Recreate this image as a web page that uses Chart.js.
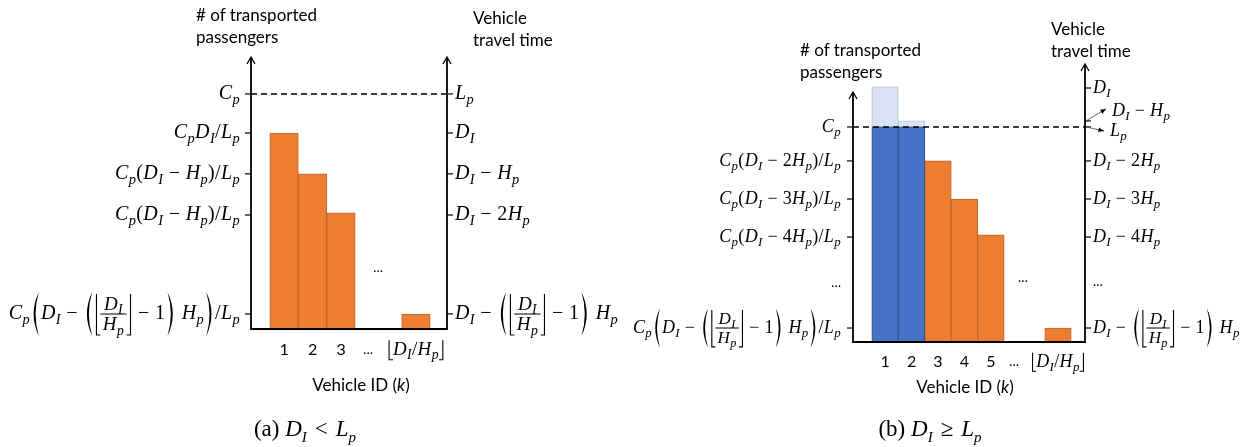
<!DOCTYPE html>
<html>
<head>
<meta charset="utf-8">
<script src="https://cdn.jsdelivr.net/npm/chart.js@4.4.1/dist/chart.umd.min.js"></script>
<style>
  body { margin: 0; background: #fff; width: 1250px; height: 447px; overflow: hidden; position: relative; }
  canvas { position: absolute; top: 0; }
  #chartA { left: 0; }
  #chartB { left: 600px; }
  .t { position: absolute; font-family: Lato, "Open Sans", sans-serif; font-size: 17px; line-height: 22px; color: #000; white-space: nowrap; }
  .c { transform: translateX(-50%); }
  .cap { position: absolute; font-family: "Liberation Serif", serif; font-size: 23px; color: #000; white-space: nowrap; transform: translateX(-50%); }
  .cap sub { font-size: 15px; }
  .cap .op { margin: 0 8px; }
</style>
</head>
<body>
<canvas id="chartA" width="630" height="447"></canvas>
<canvas id="chartB" width="650" height="447"></canvas>

<div class="t" style="left:196px;top:4px"># of transported<br>passengers</div>
<div class="t" style="left:473px;top:7px">Vehicle<br>travel time</div>
<div class="t" style="left:800px;top:39px"># of transported<br>passengers</div>
<div class="t" style="left:1051px;top:18px">Vehicle<br>travel time</div>
<div class="t c" style="left:361px;top:374px">Vehicle ID (<i>k</i>)</div>
<div class="t c" style="left:965px;top:376px">Vehicle ID (<i>k</i>)</div>
<div class="cap" style="left:305px;top:416px">(a) <i>D<sub>I</sub></i><span class="op">&lt;</span><i>L<sub>p</sub></i></div>
<div class="cap" style="left:930px;top:416px">(b) <i>D<sub>I</sub></i><span class="op">&ge;</span><i>L<sub>p</sub></i></div>

<script>
// long tick labels, written as small formula pieces
const LAST_PASSENGERS = ['C_p', { big: '(' }, 'D_I − ', { big: '(' }, { floor: ['D_I', 'H_p'] }, ' − 1', { big: ')' }, ' H_p', { big: ')' }, '/L_p'];
const LAST_TIME = ['D_I − ', { big: '(' }, { floor: ['D_I', 'H_p'] }, ' − 1', { big: ')' }, ' H_p'];

// ---- (a) D_I < L_p ----
const vehicleA = [1, 2, 3, 5.63];
const passengersA = [83.4, 66, 49.4, 6.4];
const capacityA = 100;
const yTicksA = [100, 83.4, 66, 48.5, 6.4];
const yLabelsLeftA = ['C_p', 'C_pD_I/L_p', 'C_p(D_I − H_p)/L_p', 'C_p(D_I − H_p)/L_p', LAST_PASSENGERS];
const yLabelsRightA = ['L_p', 'D_I', 'D_I − H_p', 'D_I − 2H_p', LAST_TIME];
const xTicksA = [1, 2, 3, 3.95, 5.63];
const xLabelsA = ['1', '2', '3', '…', '⌊D_I/H_p⌋'];

// ---- (b) D_I >= L_p ----
const vehicleFullB = [1, 2];
const passengersFullB = [100, 100];
const overflowB = [18.6, 2.8];
const vehicleB = [3, 4, 5, 7.53];
const passengersB = [84.2, 66.5, 49.8, 6.5];
const capacityB = 100;
const yTicksLeftB = [100, 84.2, 66.5, 48.8, 27.4, 6.5];
const yLabelsLeftB = ['C_p', 'C_p(D_I − 2H_p)/L_p', 'C_p(D_I − 3H_p)/L_p', 'C_p(D_I − 4H_p)/L_p', '…', LAST_PASSENGERS];
const yTicksRightB = [118.1, 102.8, 100, 84.2, 66.5, 48.8, 27.9, 6.5];
const yLabelsRightB = ['D_I', 'D_I − H_p', 'L_p', 'D_I − 2H_p', 'D_I − 3H_p', 'D_I − 4H_p', '…', LAST_TIME];
const xTicksB = [1, 2, 3, 4, 5, 5.87, 7.53];
const xLabelsB = ['1', '2', '3', '4', '5', '…', '⌊D_I/H_p⌋'];

const ORANGE = '#ED7D31', ORANGE_EDGE = '#C0652B';
const BLUE = '#4472C4', BLUE_EDGE = '#2F528F';
const LIGHT = '#DAE3F3', LIGHT_EDGE = '#B8C2D0';
const SERIF = '"Liberation Serif", "DejaVu Serif", serif';
const SANS = 'Lato, "Open Sans", sans-serif';

const pts = (xs, ys) => xs.map((x, i) => ({ x: x, y: ys[i] }));

// lay out a small formula: letters italic, "_x" subscript, big parens, floor fraction
function layoutMath(ctx, item, size) {
  const parts = Array.isArray(item) ? item : [item];
  const list = [];
  let w = 0;
  const push = (dw, draw) => { list.push({ x: w, draw: draw }); w += dw; };
  const glyph = (c, font, dy) => {
    ctx.font = font;
    push(ctx.measureText(c).width + size * 0.018, (g, x, b) => { g.font = font; g.fillText(c, x, b + dy); });
  };
  for (const p of parts) {
    if (typeof p === 'string') {
      for (let i = 0; i < p.length; i++) {
        const c = p[i];
        if (c === '_') {
          glyph(p[++i], 'italic ' + size * 0.72 + 'px ' + SERIF, size * 0.22);
        } else if (c === '⌊' || c === '⌋') {
          const bw = size * 0.32, left = c === '⌊';
          push(bw, (g, x, b) => {
            const xv = left ? x + bw * 0.35 : x + bw * 0.65;
            g.beginPath();
            g.moveTo(xv, b - size * 0.78);
            g.lineTo(xv, b + size * 0.24);
            g.lineTo(left ? x + bw : x, b + size * 0.24);
            g.stroke();
          });
        } else {
          glyph(c, (/[A-Za-z]/.test(c) ? 'italic ' : '') + size + 'px ' + SERIF, 0);
        }
      }
    } else if (p.big) {
      const pw = size * 0.55, open = p.big === '(';
      push(pw, (g, x, b, ax) => {
        const h = size * 1.1;
        const ends = open ? x + pw * 0.8 : x + pw * 0.2;
        const outer = open ? x - pw * 0.15 : x + pw * 1.15;
        const inner = open ? x + pw * 0.2 : x + pw * 0.8;
        g.beginPath();
        g.moveTo(ends, ax - h);
        g.quadraticCurveTo(outer, ax, ends, ax + h);
        g.quadraticCurveTo(inner, ax, ends, ax - h);
        g.fill();
      });
    } else if (p.floor) {
      const fs = size * 0.95;
      const num = layoutMath(ctx, p.floor[0], fs), den = layoutMath(ctx, p.floor[1], fs);
      const inner = Math.max(num.w, den.w) + size * 0.25, bw = size * 0.3;
      push(inner + bw * 2, (g, x, b, ax) => {
        const top = ax - size * 1.0, bot = ax + size * 1.05;
        const xr = x + bw + inner + bw * 0.65;
        g.beginPath();
        g.moveTo(x + bw * 0.35, top); g.lineTo(x + bw * 0.35, bot); g.lineTo(x + bw, bot);
        g.moveTo(xr, top); g.lineTo(xr, bot); g.lineTo(x + bw + inner, bot);
        g.moveTo(x + bw, ax); g.lineTo(x + bw + inner, ax);
        g.stroke();
        const nb = ax - size * 0.2, db = ax + size * 0.82;
        num.list.forEach(op => op.draw(g, x + bw + (inner - num.w) / 2 + op.x, nb, nb - fs * 0.27));
        den.list.forEach(op => op.draw(g, x + bw + (inner - den.w) / 2 + op.x, db, db - fs * 0.27));
      });
    }
  }
  return { w: w, list: list };
}

function drawLabel(g, item, x, y, size, align) {
  g.fillStyle = '#000'; g.strokeStyle = '#000'; g.lineWidth = 1.1;
  if (typeof item === 'string' && /^[0-9…]+$/.test(item)) {
    g.font = (item === '…' ? 13 : 16) + 'px ' + SANS;
    g.textAlign = align; g.textBaseline = 'middle';
    g.fillText(item, x, y);
    return;
  }
  const m = layoutMath(g, item, size);
  const x0 = align === 'right' ? x - m.w : align === 'center' ? x - m.w / 2 : x;
  g.textAlign = 'left'; g.textBaseline = 'alphabetic';
  const b = y + size * 0.27;
  m.list.forEach(op => op.draw(g, x0 + op.x, b, y));
}

// axes, arrows, capacity line and all formula labels
function diagramPlugin(o) {
  return {
    id: 'diagram',
    afterDatasetsDraw(chart) {
      const g = chart.ctx, a = chart.chartArea, x = chart.scales.x, y = chart.scales.y;
      const bottom = y.getPixelForValue(0);
      g.save();
      g.strokeStyle = '#000';
      g.lineWidth = 1.5;
      g.setLineDash([6, 4]);
      const cy = y.getPixelForValue(o.capacity);
      g.beginPath(); g.moveTo(a.left, cy); g.lineTo(a.right, cy); g.stroke();
      g.setLineDash([]);

      const lTop = y.getPixelForValue(o.leftTop), rTop = y.getPixelForValue(o.rightTop);
      g.lineWidth = 1.8;
      g.beginPath();
      g.moveTo(a.left, lTop); g.lineTo(a.left, bottom); g.lineTo(a.right, bottom); g.lineTo(a.right, rTop);
      g.stroke();
      g.lineWidth = 1.3;
      [[a.left, lTop], [a.right, rTop]].forEach(([ax, ay]) => {
        g.beginPath(); g.moveTo(ax - 4, ay + 6); g.lineTo(ax, ay - 1); g.lineTo(ax + 4, ay + 6); g.stroke();
      });

      g.lineWidth = 1.2;
      o.leftTicks.forEach((v, i) => {
        const py = y.getPixelForValue(v), lab = o.leftLabels[i];
        if (lab !== '…') { g.beginPath(); g.moveTo(a.left - 6, py); g.lineTo(a.left, py); g.stroke(); }
        drawLabel(g, lab, a.left - o.gapLeft, py, o.size, 'right');
        g.strokeStyle = '#000'; g.lineWidth = 1.2;
      });
      o.rightTicks.forEach((v, i) => {
        const py = y.getPixelForValue(v), lab = o.rightLabels[i];
        if (lab !== '…') { g.beginPath(); g.moveTo(a.right, py); g.lineTo(a.right + 6, py); g.stroke(); }
        const co = o.callouts[i];
        if (co) {
          const ex = a.right + co[0], ey = py + co[1];
          const ang = Math.atan2(ey - py, ex - a.right - 1);
          g.strokeStyle = '#555'; g.lineWidth = 0.9;
          g.beginPath(); g.moveTo(a.right + 1, py); g.lineTo(ex, ey); g.stroke();
          g.fillStyle = '#000';
          g.beginPath(); g.moveTo(ex, ey);
          g.lineTo(ex - 6 * Math.cos(ang - 0.4), ey - 6 * Math.sin(ang - 0.4));
          g.lineTo(ex - 6 * Math.cos(ang + 0.4), ey - 6 * Math.sin(ang + 0.4));
          g.fill();
          drawLabel(g, lab, ex + 6, ey + co[2], o.size, 'left');
        } else {
          drawLabel(g, lab, a.right + o.gapRight, py, o.size, 'left');
        }
        g.strokeStyle = '#000'; g.lineWidth = 1.2;
      });

      o.xTicks.forEach((v, i) => {
        drawLabel(g, o.xLabels[i], x.getPixelForValue(v), bottom + o.xLabelGap, o.xSize, 'center');
      });
      drawLabel(g, '…', x.getPixelForValue(o.dots[0]), y.getPixelForValue(o.dots[1]), o.size, 'center');
      g.restore();
    }
  };
}

function makeChart(id, datasets, o) {
  return new Chart(document.getElementById(id), {
    type: 'bar',
    data: { datasets: datasets },
    options: {
      responsive: false,
      animation: false,
      events: [],
      layout: { padding: o.padding },
      plugins: { legend: { display: false }, tooltip: { enabled: false } },
      datasets: { bar: { barPercentage: 1, categoryPercentage: 1, borderWidth: 1 } },
      scales: {
        x: { type: 'linear', min: o.xMin, max: o.xMax, offset: false, stacked: true, display: false,
             ticks: { stepSize: 1, includeBounds: false } },
        y: { type: 'linear', min: 0, max: o.rightTop, stacked: true, display: false }
      }
    },
    plugins: [diagramPlugin(o)]
  });
}

makeChart('chartA', [
  { data: pts(vehicleA, passengersA), backgroundColor: ORANGE, borderColor: ORANGE_EDGE }
], {
  padding: { left: 251, right: 183, top: 58, bottom: 118 },
  xMin: -0.16, xMax: 6.72, leftTop: 115.3, rightTop: 115.3,
  capacity: capacityA, size: 20, xSize: 19, gapLeft: 11, gapRight: 8, xLabelGap: 21,
  leftTicks: yTicksA, leftLabels: yLabelsLeftA,
  rightTicks: yTicksA, rightLabels: yLabelsRightA,
  xTicks: xTicksA, xLabels: xLabelsA,
  dots: [4.3, 26], callouts: {}
});

makeChart('chartB', [
  { data: pts(vehicleFullB, passengersFullB), backgroundColor: BLUE, borderColor: BLUE_EDGE },
  { data: pts(vehicleFullB, overflowB), backgroundColor: LIGHT, borderColor: LIGHT_EDGE },
  { data: pts(vehicleB, passengersB), backgroundColor: ORANGE, borderColor: ORANGE_EDGE }
], {
  padding: { left: 253, right: 165, top: 65, bottom: 105 },
  xMin: -0.21, xMax: 8.55, leftTop: 115.8, rightTop: 128.8,
  capacity: capacityB, size: 18, xSize: 18, gapLeft: 12, gapRight: 8, xLabelGap: 20,
  leftTicks: yTicksLeftB, leftLabels: yLabelsLeftB,
  rightTicks: yTicksRightB, rightLabels: yLabelsRightB,
  xTicks: xTicksB, xLabels: xLabelsB,
  dots: [6.2, 29.8], callouts: { 1: [21, -12, 2], 2: [19, 4, 0] }
});
</script>
</body>
</html>
